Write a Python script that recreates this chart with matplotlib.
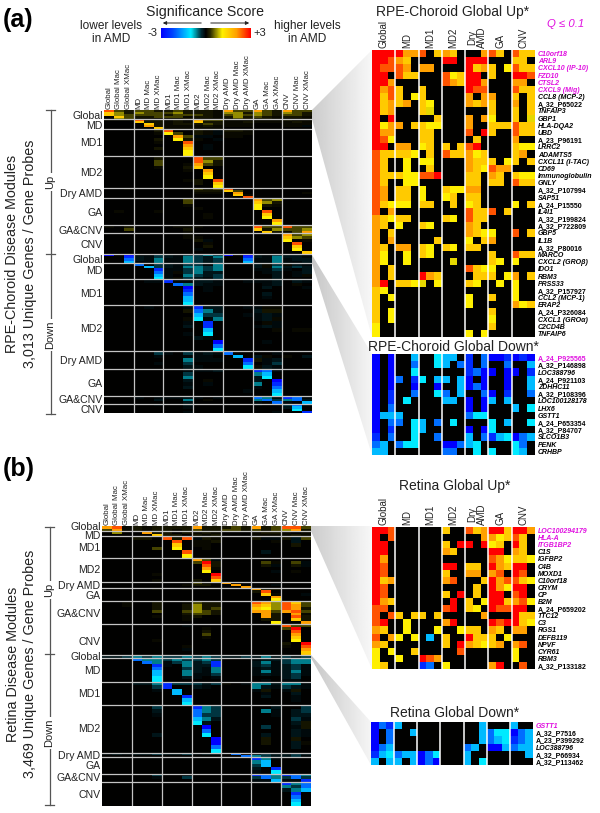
import numpy as np
import matplotlib
matplotlib.use("Agg")
import matplotlib.pyplot as plt
from matplotlib.colors import LinearSegmentedColormap, Normalize
from matplotlib.cm import ScalarMappable
from matplotlib.patches import Polygon

plt.rcParams['font.family'] = ['Liberation Sans', 'DejaVu Sans']

W, H = 600, 813

# cell codes -> significance score
LEVELS = {'.': 0, 'p': .06, 'q': .15, 'r': .4, 's': .7,
          '1': 1.0, '2': 1.1, '3': 1.55, '4': 2.05, '5': 2.5, '6': 3.0,
          'w': -.06, 'x': -.15, 'y': -.35, 'z': -.6,
          'a': -3.0, 'b': -2.5, 'c': -1.9, 'd': -1.35, 'e': -1.0}

column_groups = ['Global', 'MD', 'MD1', 'MD2', 'Dry AMD', 'GA', 'CNV']
column_labels = [g + s for g in column_groups for s in ('', ' Mac', ' XMac')]
small_groups = ['Global', 'MD', 'MD1', 'MD2', 'Dry\nAMD', 'GA', 'CNV']
module_names = ['Global', 'MD', 'MD1', 'MD2', 'Dry AMD', 'GA', 'GA&CNV', 'CNV'] * 2

# ---- (a) RPE-Choroid modules, top to bottom
a_modules = [
    ["5rq rrq qrq qqp 4rr 4rq 4rr", "3sq srr rsq qqp ssq srq srq", "3sr rrr qrr rqp rsr srq rrq",
     ".3r qqr rrp qqp qsq rqp qqp", ".sr ppp ppq ppp prq qqp ppp"],
    ["ppp 5qq pqp 4rr ppp ppp qpp", "... 3qq pqp 3qq ppq ppp pqp", "... .3q pqq qrq ppp ... ppp",
     "... .4q ppp pqp ppp ... ppw", "... ..3 ppp ppp ... ... ..."],
    ["... ..q 5.. qpw qqp ... ...", "... ..p 2r. qpw ppp ... ...", "... ... .4r ww. pp. ... ...",
     "... ..q .2q p.w ... ... ...", "... ..p ..5 ... ... ... ...", "... ... ..4 .w. ... ... ...",
     "... ..q ..3 .w. ... ... ...", "... ... ..2 ... ... ... ...", "... ... ..2 ... ... ... ..."],
    ["... ..q ... 5rr ... ... ...", "... ..r ... 5sq ... ... ...", "... ..r ..p 4rq ... ... ...",
     "... ..p ..q 3.. ... ... ...", "... ... ..p .4. ... ... ...", "... ... ... .3. ... ... ...",
     "... ... ... .2. ... ... ...", "... ... ..p q.5 ... ... ...", "... ... ... q.3 ... ... ...",
     "... ... ... ..2 ... ... ..."],
    ["..p ... ..p rqr 5.. p.. ...", "... ... ... qqq 3r. ... ...", "... ... ... ppp .4. ... ..p",
     "... ... ... ... .3p ... ...", "... ... ... ... ..5 ... ..."],
    ["... ... ..r ... ... 4rs ...", "... ... ..r ... ... 3sq ...", "... ... ..p ... ... 2qp ...",
     "... ... ... p.. ... 2.. ...", ".p. ..p ... ... ... .5. ...", "... ... ... .p. ... .3. ...",
     "... ... ... .p. ... .2. ...", "... ... ... ... ... ..4 ...", "... ... ... ... ... ..2 ..."],
    ["p.q ... .pp p.. ... 5rr 5rr", "..r ... ..q ... ... 3qs rrs", "... ... ..p ... ... .3q pr4"],
    ["... ... ..p ... ... ... 4rs", "... ... ..p p.. ... ... 3sr", "... ... ... qw. ... ... 2.p",
     "... ... ... .p. ... ... .5.", "... ... ... .q. ... ... .3.", "... ... ... w.. ... ... .2.",
     "... ... ... ... ... ... ..3"],
    ["a.a wwy xwy yzy a.a xwy xxw", "..b xwy xwz yxz ..b xwz xxw", "..c xwz wwz yxy ..c wwz wxx",
     "..d wwz wwz yxy ..d wwz wwx"],
    ["... c.y xwy ywz ... xpy pxw", "... .dy xwz zyz ... xpz xyx", "... ..b wwy zyz ... wwy w.x",
     "... ..c wpy zxx ... .wx .wx", "... ..d w.z yxy ... ..x .wp", "... ..e wpy xwy ... ..x ..."],
    ["... .ww bww xxw ..w wwx .xw", "... ... .cz xww ... .wx .p.", "... ... ..a .w. ... .x. ..w",
     "... ... ..b .w. ... ... ...", "... ... ..c ... ... .x. ...", "... ... ..d ... ... .w. ...",
     "... ... ..d ... ... ... ...", "... ... ..e ... ... ... ..."],
    ["... .w. ..w bxx ..w wpp ...", "... ... ..q czx ... xqq ...", "... ... ... dyy ..w wxw ...",
     "... ... ..p ewz ... wxp ...", "... ... ..w .b. ... .pw ...", "... ... ..x .b. ... wxw ...",
     "... ... ... .d. ... ..p .pp", "... ... ..w .e. ... ... ...", "... ... ... xw. ... ... ...",
     "... ... ... ..a ... .w. ...", "... ... ... ..c ... ... ...", "... ... ... ..e ... ... ..."],
    ["... ..y w.y wxw c.. ..w ...", "... ..w ..w ww. .d. xp. p.x", "... ... ..z www ..b qwx ...",
     "... ..w ..y ... ..c .wy ...", "... ... ..x w.. ..e pxw ..."],
    ["... ... ..w wwx ... bcw ...", "... ... ..y ... ... zd. ...", "... ... ..z ... ... xe. ...",
     "... ... ..x .p. ... x.a ...", "... ... ..w .w. ... z.b ...", "... ... ..x ... ... w.c ...",
     "... ... ... ... ..w ..d ...", "... ... ... ... ... ..e ..."],
    ["... w.w wwx w.w ... czw bcw", "... ..x ..z .p. ... zcy zcx", "... ... ..x ... ... w.c w.d"],
    ["... ..w ..x ... ... w.. ycw", "... ... ..w ... ... ... xd.", "... ... ... ... ... ... .e.",
     "... ... ..w ... ... ..w ..b"],
]

# ---- (b) Retina modules
b_modules = [
    ["45p qpq qqq 4qq qrq 4qr 55r", "r4p qpq qpq rqq rrq rqr s4q"],
    [".s. .4q q.q pqp ... pqq p.p", "... ..3 qq. qpq ... ppp pqp"],
    ["... qq. 5q5 wqp ... qww qxr", "... ... .5. ppq ... ..p .x.", "... ... .3. pp. ... ... .q.",
     "... ..r .2. .p. ... ... ...", "... ... ..5 ... ... .x. ...", "... ... ..2 ... ... ... ..."],
    ["... ... ... 4rw ... ... ...", "... ... ... r6q ... .rp .rw", "... ... ... .5q ... .qw .qw",
     "... ... ... .4p ... ... ...", "... ... ... .2. ... ..w .p.", "... ..p ... ..6 ... ... ...",
     "... ... ... ..5 ... ... ...", "... ..p ... q.3 ... ... ..."],
    ["... ... ... rp. 4.. ... ...", "... ... ..p qq. .4. ..w ...", "... ... ... ... ..4 ... ..."],
    ["... ..p ..p ... ... 4qq ...", "... ... ... ... ... q5. ...", "... ... ... ... ... .3p ..w",
     "... ... ... ... ... ..4 ...", "... ... ... ... ... ..2 ..."],
    ["..p ..q ..p rqq ... 54s 53r", "..p ..q ..q sqq ... 43s 54r", "... ..q ..q sqr ... 32s 54q",
     "... ..r ..r srq ... 44r 45r", "... ... ..q rrq ... .4q .4p", "... ..p ..p q.. ... .4q .5q",
     "... ... ..p ... ... .qq .3q", "... ... ... ... ... ..2 ..4"],
    ["... ... ..w ... ... ... 5rr", "... ... ... .p. ... ... r6.", "... ... ... .q. ... ... .5.",
     "... ... ... .r. ... ... .4.", "... ... ... .p. ... ... .3.", "... ..p ... ... ... ... .2.",
     "... ... ... ... ... ... q.6", "... ... ..p ... ... ... p.5", "... ... ..w ... ... ... ..4",
     "... ... ... ... ... ... ..3"],
    ["zyd zxz yyz yzy yyz zyy zzz", "xxy zyz yyz yzy xxy xzx yxy"],
    ["... czz yzy yzy ... wxx yzz", "... .cz wyz xyb ... xzw yzz", "... ..b w.z xxb ... xyw xyw",
     "... ..c ..y xwz ... wxw xyw", "... ..d ..z xwz ... wzw xzw", "... ..d ..z wwy ... wxw xyw",
     "... ..e ..x w.w ... ... xy.", "... ..e ... ... ... .w. ww."],
    ["... xxz byy yxy p.w zzx zzw", "... ..y b.. xw. ... zxw yxw", "... ..w .d. ... ... wq. wq.",
     "... ... .d. ... ... .w. .x.", "... ... ..b ... ... .x. .w.", "... ... ..d ... ... ... .w.",
     "... ... ..e ... ... ... ..."],
    ["... ..y ... bzy ... ..x ..y", "... ..x ... czy ... .zw .xy", "... ..w ... cyy ... ..w .xx",
     "... ... ... dzx ... ... .yw", "... ... ... ex. ... ... .xq", "... ... ... .a. ... .y. .wq",
     "... ... ... .c. ... ... .xw", "... ..x ... .e. ... .x. .xw", "... ... ... ..a ... .q. .q.",
     "... ... ... ..a ... .q. .xp", "... ... ... ..c ... ... .x.", "... ... ... ..e ... ... ..."],
    ["wxw xxy xxy wxx .c. xyx xyx", "... ... ... ... ..c zyx xyw"],
    ["... ... ... ... ... bzw ...", "... ... ... ... ... zd. ...", "... ... ... ... ... yd. ...",
     "... ... ... ... ... x.b ...", "... ... ... ... ... w.e ..."],
    ["... ..y ..w ... ... bcz bcz", "... ..w ..y ... ... ycz ycy", "... ... ... ... ... wwd wwb"],
    ["... ... ... ... ... ... bzc", "... ... ... ... ... ... zyc", "... ... ... ... ... ... xzd",
     "... ... ... ... ... ... .b.", "... ... ... ... ... ... .c.", "... ... ... ... ... ... .d.",
     "... ... ... ... ... ... .e."],
]

# module boundaries and label rows, in figure rows
a_edges = [110, 119.5, 129, 156.5, 188, 198.5, 225.5, 233.5, 254,
           263, 279.5, 305.5, 351.5, 369, 396, 403.5, 413.5]
a_label_y = [115, 125, 142, 172, 193, 212, 229.5, 244, 259, 270, 293, 328, 360, 382.5, 399, 409]
b_edges = [526, 531, 536, 557.5, 581.5, 587.5, 601, 624, 654.5,
           658, 682, 705, 753, 757, 773.5, 781.5, 805.5]
b_label_y = [526, 534.7, 547, 569.3, 585, 595, 612.7, 640.7, 656, 670, 693, 728, 755, 765, 777, 794]

# ---- detail panels
a_up_genes = ['C10orf18', 'ARL9', 'CXCL10 (IP-10)', 'FZD10', 'CTSL2', 'CXCL9 (Mig)', 'CCL8 (MCP-2)',
              'A_32_P65022', 'TNFAIP3', 'GBP1', 'HLA-DQA2', 'UBD', 'A_23_P96191', 'LRRC2', 'ADAMTS5',
              'CXCL11 (I-TAC)', 'CD69', 'Immunoglobulin', 'GNLY', 'A_32_P107994', 'SAP51', 'A_24_P15550',
              'IL4I1', 'A_32_P199824', 'A_32_P722809', 'GBP5', 'IL1B', 'A_32_P80016', 'MARCO',
              'CXCL2 (GROβ)', 'IDO1', 'RBM3', 'PRSS33', 'A_32_P157927', 'CCL2 (MCP-1)', 'ERAP2',
              'A_24_P326084', 'CXCL1 (GROα)', 'C2CD4B', 'TNFAIP6']
a_up_cells = [
    "666 644 5.3 43. ..4 53. 533", "665 43. ... 66. 666 ... 33.", "655 54. 44. ... 634 3.2 533",
    "66. 533 ... 523 66. 3.. 665", "664 ... ... 543 664 ... 44.", "645 3.. 3.. ... 655 ... 533",
    "635 3.2 3.. ... 4.4 4.. 3.3", "634 34. 32. ... 434 3.. 4.3", "634 ... 31. ... ... 3.. 3.3",
    "6.6 ... ..3 ... 4.4 2.. 3.1", "624 4.3 322 ... 4.. 333 533", "644 ... 33. ... 5.6 3.. 533",
    "652 ... 33. ... .3. ... 4..", "66. 44. 23. 3.3 56. ... 322", "533 332 .3. 533 423 ... 34.",
    "53. .2. 22. ... 433 3.2 3.3", "53. .2. .3. ... 432 544 ...", "533 322 556 ... 33. 43. 322",
    "53. .22 ... ... 33. 33. 533", "54. 33. 2.. 322 44. ... ...", "54. 33. 2.. 23. 33. ... ...",
    "532 22. 33. .3. 23. ... 2.3", "5.4 ... ... ... 533 5.3 ...", "432 33. ... 32. 533 ... ...",
    "43. 2.. 32. ... 43. ... ...", "4.3 ... ... ... 432 2.. 5.3", "4.4 ... ..3 ... 2.3 4.. ...",
    "43. 44. 32. 32. 33. ... ...", "42. .2. 32. ... ... 3.. 533", "42. .2. ... .1. ... 32. 2..",
    "4.3 ... ... ... 532 2.. ...", "4.3 ... 643 ... .33 3.2 4.3", "46. 332 1.2 ... 32. .2. 2..",
    "32. ... ... ... ... ... 2..", "3.2 ... ... ... 2.. 3.. 2..", "3.. ... ... ... 2.. ... 423",
    "3.2 ... ... ... ... 3.. ...", "3.2 ... ... ... ... 2.. ...", "2.. ... ... ... ... 3.. ...",
    "2.. ... ... ... 2.2 ... ...",
]
a_down_genes = ['A_24_P925565', 'A_32_P146898', 'LOC388796', 'A_24_P921103', 'ZDHHC11', 'A_32_P108396',
                'LOC100128178', 'LHX6', 'GSTT1', 'A_24_P653354', 'A_32_P84707', 'SLCO1B3', 'PENK', 'CRHBP']
a_down_cells = [
    "a.a ..d ..e dd. b.c aab aba", "a.a ..c ..e d.c b.c ..c ..d", "a.a ..e ... ... bca a.a a.b",
    "a.a c.b e.d d.d a.a ..a ..d", "a.a ..a ..a ..d aca ..a ..d", "a.b ..c ..e c.d ..c a.b ..c",
    "a.b .e. ... dd. a.a d.d ...", "a.c ... ... ... a.a ... d.e", "add d.. ... ... cee ... ...",
    "a.c c.e d.c .e. ... e.d ..e", "a.b ..e d.. ... a.a e.. ...", "b.c ..e ..c ... d.c bde acd",
    "cd. cee ... aac de. ... ec.", "dd. ... ... cc. .e. e.. ed.",
]
b_up_genes = ['LOC100294179', 'HLA-A', 'ITGB1BP2', 'C1S', 'IGFBP2', 'C4B', 'MOXD1', 'C10orf18', 'CRYM', 'CP',
              'B2M', 'A_24_P659202', 'TTC12', 'C3', 'RGS1', 'DEFB119', 'NPVF', 'CYR61', 'RBM3', 'A_32_P133182']
b_up_cells = [
    "665 ... ... 3.. 534 663 664", "6.5 ... ... ... ..4 423 53.", "66. ... ... 3.6 6.6 23. 63.",
    "66. ... ... 43. ... 66. 43.", "64. ... ... ... ... 542 332", "65. ... ... 66. 33. 643 66.",
    "65. ... ... 3.. 44. 45. 65.", "634 ... ... 45. ..3 645 532", "65. ... ... ... .3. 642 66.",
    "65. ... ... 3.6 .3. 66. 56.", "643 ... ... .6. 3.2 663 452", "55. ... ... 56. 32. 655 66.",
    "5.5 3.3 3.3 ... ..4 ... 633", "56. .2. ... 46. ... 656 632", "43. .2. ..2 ..2 33. 43. 44.",
    "5.4 2.2 .d. 3.. 633 3.2 ...", "43. ... ... 3.6 432 34. 45.", "2.2 ..3 ... ..5 ... ... 2..",
    "2.. 2.. 654 ... ... ... 2..", "23. ... bc. 2.. ... 46. .5.",
]
b_down_genes = ['GSTT1', 'A_32_P7516', 'A_23_P399292', 'LOC388796', 'A_32_P66934', 'A_32_P113462']
b_down_cells = [
    "acb d.. ... ... ..d ... d..", "a.c ..d ... ... ..d cee acd", "a.c ... ... ... ..d cde bcd",
    "acd ... ... ... cd. aad cdd", "bde cdd ace ... d.. ... ..d", "d.d d.d aca ... d.e ... ...",
]

# ---- colour scale
scale_pos = [-3, -2.2, -1.0, -.3, 0, .3, 1.1, 2.05, 3]
scale_col = ['#0000ff', '#0046ff', '#00ebff', '#002832', '#000000', '#282800', '#fff000', '#ffa000', '#ff0000']
cmap = LinearSegmentedColormap.from_list('score', [((p + 3) / 6, c) for p, c in zip(scale_pos, scale_col)], N=512)
norm = Normalize(-3, 3)


def decode(rows):
    return np.array([[LEVELS[c] for c in r.replace(' ', '')] for r in rows], dtype=float)


def px_axes(x0, y0, x1, y1, **kw):
    return fig.add_axes([x0 / W, 1 - y1 / H, (x1 - x0) / W, (y1 - y0) / H], **kw)


def gray_wedge(ax, pts, c_left, c_right):
    xs = [p[0] for p in pts]
    ys = [p[1] for p in pts]
    grad = np.linspace(c_left, c_right, 64)[None, :]
    im = ax.imshow(grad, cmap='gray', vmin=0, vmax=1, aspect='auto', zorder=1,
                   extent=(min(xs), max(xs), max(ys), min(ys)))
    im.set_clip_path(Polygon(pts, transform=ax.transData))


def big_heat(box, modules, edges, label_y):
    x0, x1 = box
    ax = px_axes(x0, edges[0], x1, edges[-1])
    data = np.vstack([decode(m) for m in modules])
    y_edges = np.concatenate([np.linspace(edges[i], edges[i + 1], len(m), endpoint=False)
                              for i, m in enumerate(modules)] + [[edges[-1]]])
    ax.pcolormesh(np.arange(22), y_edges, data, cmap=cmap, norm=norm, antialiased=False)
    ax.set_xlim(0, 21)
    ax.set_ylim(edges[-1], edges[0])
    for v in range(3, 21, 3):
        ax.axvline(v, color='#c4c4c4', lw=0.9)
    for e in edges[1:-1]:
        ax.axhline(e, color='#c4c4c4', lw=0.9)
    ax.set_xticks(np.arange(21) + .5, column_labels, rotation=90, fontsize=5.7, color='#222222')
    ax.xaxis.tick_top()
    ax.set_yticks(label_y, module_names, fontsize=7.6, color='#222222')
    ax.tick_params(length=0, pad=1)
    for s in ax.spines.values():
        s.set_visible(False)
    return ax


def detail_heat(box, cells, genes, n_magenta):
    ax = px_axes(*box)
    data = decode(cells)
    ax.pcolormesh(np.arange(22), np.arange(len(cells) + 1), data, cmap=cmap, norm=norm, antialiased=False)
    ax.set_xlim(0, 21)
    ax.set_ylim(len(cells), 0)
    for v in range(3, 21, 3):
        ax.axvline(v, color='white', lw=1.1)
    ax.set_xticks([])
    ax.yaxis.tick_right()
    ax.set_yticks(np.arange(len(genes)) + .5, genes, fontsize=5, fontweight='bold')
    for i, t in enumerate(ax.get_yticklabels()):
        t.set_fontstyle('normal' if t.get_text().startswith('A_') else 'italic')
        t.set_color('#e010e0' if i < n_magenta else 'black')
    ax.tick_params(length=0, pad=2)
    for s in ax.spines.values():
        s.set_visible(False)
    return ax


fig = plt.figure(figsize=(W / 100, H / 100), dpi=100)
bg = fig.add_axes([0, 0, 1, 1])
bg.set_xlim(0, W)
bg.set_ylim(H, 0)
bg.axis('off')

# shaded wedges from the module rows to the detail panels
gray_wedge(bg, [(312, 110), (372, 50), (372, 337), (312, 119)], .80, .97)
gray_wedge(bg, [(312, 255), (372, 354), (372, 455), (312, 263)], .78, .96)
gray_wedge(bg, [(311, 526), (372, 526), (372, 669), (311, 531)], .80, .97)
gray_wedge(bg, [(311, 655), (371, 722), (371, 765), (311, 658)], .78, .96)
bg.set_xlim(0, W)
bg.set_ylim(H, 0)

big_heat((104, 312), a_modules, a_edges, a_label_y)
big_heat((102, 311), b_modules, b_edges, b_label_y)

detail_panels = [((372, 50, 535, 337), a_up_cells, a_up_genes, 6),
                 ((372, 354, 535, 455), a_down_cells, a_down_genes, 1),
                 ((372, 527, 535, 669), b_up_cells, b_up_genes, 3),
                 ((371, 722, 533, 765), b_down_cells, b_down_genes, 1)]
for box, cells, genes, n in detail_panels:
    detail_heat(box, cells, genes, n)

# group headers over the two "up" panels
for bottom in (48, 525):
    for i, g in enumerate(small_groups):
        bg.text(372 + 163 * (3 * i + 1.5) / 21, bottom, g, rotation=90, ha='center', va='bottom',
                fontsize=7, linespacing=0.95, multialignment='center', color='#222222')

# legend bar
cax = px_axes(161, 28.3, 250.7, 37.7)
cb = fig.colorbar(ScalarMappable(norm=norm, cmap=cmap), cax=cax, orientation='horizontal', ticks=[])
cb.outline.set_visible(False)
bg.text(205.5, 12, 'Significance Score', ha='center', va='center', fontsize=10.2, color='#222222')
bg.annotate('', (160, 23), (204, 23), arrowprops=dict(arrowstyle='-|>', color='#222222', lw=.7, mutation_scale=5))
bg.annotate('', (252, 23), (208, 23), arrowprops=dict(arrowstyle='-|>', color='#222222', lw=.7, mutation_scale=5))
bg.text(158, 33, '-3', ha='right', va='center', fontsize=8, color='#222222')
bg.text(253, 33, '+3', ha='left', va='center', fontsize=8, color='#222222')
bg.text(111, 32.5, 'lower levels\nin AMD', ha='center', va='center', fontsize=8.6, linespacing=1.1, color='#222222')
bg.text(307, 32.5, 'higher levels\nin AMD', ha='center', va='center', fontsize=8.6, linespacing=1.1, color='#222222')

# panel letters and titles
bg.text(3, 20, '(a)', ha='left', va='center', fontsize=18, fontweight='bold')
bg.text(3, 469, '(b)', ha='left', va='center', fontsize=18, fontweight='bold')
bg.text(453, 12, 'RPE-Choroid Global Up*', ha='center', va='center', fontsize=10, color='#222222')
bg.text(566, 24, 'Q ≤ 0.1', ha='center', va='center', fontsize=8.2, color='#e010e0', style='italic')
bg.text(453, 347, 'RPE-Choroid Global Down*', ha='center', va='center', fontsize=10, color='#222222')
bg.text(454.5, 486, 'Retina Global Up*', ha='center', va='center', fontsize=10, color='#222222')
bg.text(454.5, 713, 'Retina Global Down*', ha='center', va='center', fontsize=10, color='#222222')

# side titles
bg.text(12.5, 254, 'RPE-Choroid Disease Modules', rotation=90, ha='center', va='center', fontsize=10.3, color='#222222')
bg.text(30, 254, '3,013 Unique Genes / Gene Probes', rotation=90, ha='center', va='center', fontsize=10.3, color='#222222')
bg.text(13, 664, 'Retina Disease Modules', rotation=90, ha='center', va='center', fontsize=10.3, color='#222222')
bg.text(30, 664, '3,469 Unique Genes / Gene Probes', rotation=90, ha='center', va='center', fontsize=10.3, color='#222222')

# up / down brackets
for x, top, mid, bot, y_up, y_down in [(50.5, 110, 254, 413.5, 182, 335), (49.5, 526.5, 654, 804.5, 590, 733)]:
    bg.plot([x, x], [top, bot], color='#555555', lw=.9, zorder=2)
    for y in (top, mid, bot):
        bg.plot([x - 4.5, x + 4.5], [y, y], color='#555555', lw=.9, zorder=2)
    for y, t in ((y_up, 'Up'), (y_down, 'Down')):
        bg.text(x, y, t, rotation=90, ha='center', va='center', fontsize=8, color='#222222', zorder=3,
                bbox=dict(fc='white', ec='none', pad=1.2))

fig.savefig('out.png', dpi=100)
